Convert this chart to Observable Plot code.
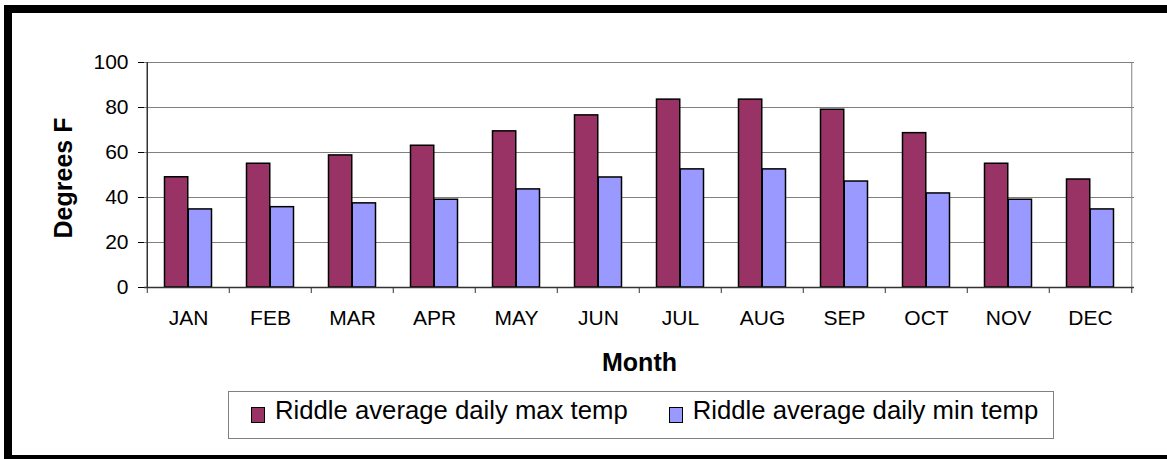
<!DOCTYPE html>
<html>
<head>
<meta charset="utf-8">
<script src="https://cdn.jsdelivr.net/npm/d3@7"></script>
<script src="https://cdn.jsdelivr.net/npm/@observablehq/plot@0.6"></script>
<style>
  html, body { margin: 0; padding: 0; background: #fff; overflow: hidden; }
  #wrap { position: relative; width: 1167px; height: 459px; font-family: 'Liberation Sans', Arial, sans-serif; }
  #chart { position: absolute; left: 0; top: 0; }
  #border { position: absolute; left: 4px; top: 5px; width: 1300px; height: 458px; border: 8px solid #000; box-sizing: border-box; }
  #legend { position: absolute; left: 228px; top: 391px; width: 826px; height: 48px; border: 1px solid #808080; box-sizing: border-box;
            display: flex; align-items: flex-start; padding-left: 22px; padding-top: 6px; }
  .item { display: flex; align-items: flex-start; }
  .item + .item { margin-left: 41px; }
  .sw { width: 12px; height: 14px; border: 1px solid #000; margin-top: 9px; margin-right: 10px; }
  .lab { font-size: 25.7px; line-height: 25px; color: #000; white-space: nowrap; }
</style>
</head>
<body>
<div id="wrap">
  <div id="chart"></div>
  <div id="border"></div>
  <div id="legend"></div>
</div>
<script>
const months = ["JAN", "FEB", "MAR", "APR", "MAY", "JUN", "JUL", "AUG", "SEP", "OCT", "NOV", "DEC"];
const maxTemp = [49, 55, 58.7, 63, 69.4, 76.5, 83.5, 83.5, 79, 68.6, 55, 48];
const minTemp = [34.7, 35.7, 37.4, 39, 43.6, 48.9, 52.5, 52.5, 47.1, 41.8, 39, 34.7];
const seriesNames = ["Riddle average daily max temp", "Riddle average daily min temp"];
const seriesColors = ["#993366", "#9999FF"];
const yTicks = [0, 20, 40, 60, 80, 100];
const yTitle = "Degrees F";
const xTitle = "Month";

const W = 1167, H = 459, ml = 144, mr = 33, mt = 62, mb = 172;
const step = (W - ml - mr) / months.length;
const frameH = H - mt - mb;
const rows = months.map((m, i) => ({month: m, max: maxTemp[i], min: minTemp[i]}));
const last = months[months.length - 1];

const chart = Plot.plot({
  width: W, height: H,
  marginLeft: ml, marginRight: mr, marginTop: mt, marginBottom: mb,
  style: {fontFamily: "'Liberation Sans', Arial, sans-serif", fontSize: "21px", color: "#000", background: "transparent", overflow: "visible"},
  x: {domain: months, padding: 0, label: null, tickSize: 0, tickPadding: 23},
  y: {domain: [0, 100], ticks: yTicks, tickSize: 6, tickPadding: 10, label: null},
  marks: [
    Plot.ruleY(yTicks.filter(d => d > 0), {stroke: "#808080", strokeWidth: 1}),
    Plot.tickX([last], {x: d => d, dx: step / 2, stroke: "#808080", strokeWidth: 1}),
    Plot.barY(rows, {x: "month", y: "max", fill: seriesColors[0], stroke: "#000", strokeWidth: 1.5, insetLeft: 17.5, insetRight: step / 2}),
    Plot.barY(rows, {x: "month", y: "min", fill: seriesColors[1], stroke: "#000", strokeWidth: 1.5, insetLeft: step / 2, insetRight: 17.5}),
    Plot.tickX([months[0]], {x: d => d, dx: -step / 2, stroke: "#333", strokeWidth: 1.5}),
    Plot.ruleY([0], {stroke: "#333", strokeWidth: 1.5}),
    Plot.tickX(months, {x: d => d, dx: -step / 2, insetTop: frameH, insetBottom: -6, stroke: "#333"}),
    Plot.tickX([last], {x: d => d, dx: step / 2, insetTop: frameH, insetBottom: -6, stroke: "#333"}),
    Plot.text([yTitle], {text: d => d, frameAnchor: "left", textAnchor: "middle", lineAnchor: "middle", dx: -81, dy: 3, rotate: -90, fontSize: 25, fontWeight: "bold", fill: "#000"}),
    Plot.text([xTitle], {text: d => d, frameAnchor: "bottom", textAnchor: "middle", lineAnchor: "middle", dy: 75, fontSize: 25, fontWeight: "bold", fill: "#000"})
  ]
});
document.getElementById("chart").appendChild(chart);

const legend = document.getElementById("legend");
seriesNames.forEach((name, i) => {
  const item = document.createElement("div");
  item.className = "item";
  const sw = document.createElement("div");
  sw.className = "sw";
  sw.style.background = seriesColors[i];
  const lab = document.createElement("div");
  lab.className = "lab";
  lab.textContent = name;
  item.appendChild(sw);
  item.appendChild(lab);
  legend.appendChild(item);
});
</script>
</body>
</html>
